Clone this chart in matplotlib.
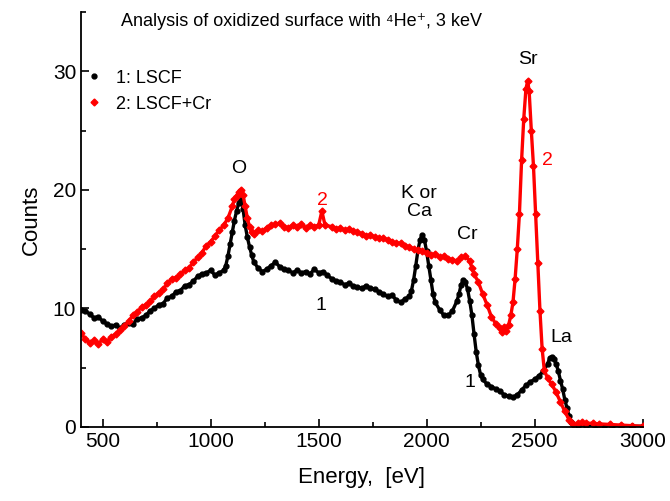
import matplotlib.pyplot as plt

plt.rcParams['font.family'] = ['Liberation Sans', 'DejaVu Sans']

# 1: LSCF (black)
e_lscf = [400, 420, 440, 460, 480, 500, 520, 540, 560, 580, 600, 620, 640, 660, 680,
          700, 720, 740, 760, 780, 800, 820, 840, 860, 880, 900, 920, 940, 960, 980,
          1000, 1020, 1040, 1060, 1070, 1080, 1090, 1100, 1110, 1120, 1130, 1140, 1150,
          1160, 1170, 1180, 1190, 1200, 1220, 1240, 1260, 1280, 1300, 1320, 1340, 1360,
          1380, 1400, 1420, 1440, 1460, 1480, 1500, 1520, 1540, 1560, 1580, 1600, 1620,
          1640, 1660, 1680, 1700, 1720, 1740, 1760, 1780, 1800, 1820, 1840, 1860, 1880,
          1900, 1920, 1930, 1940, 1950, 1960, 1970, 1980, 1990, 2000, 2010, 2020, 2030,
          2040, 2060, 2080, 2100, 2120, 2140, 2150, 2160, 2170, 2180, 2190, 2200, 2210,
          2220, 2230, 2240, 2250, 2260, 2280, 2300, 2320, 2340, 2360, 2380, 2400, 2420,
          2440, 2460, 2480, 2500, 2520, 2540, 2560, 2570, 2580, 2590, 2600, 2610, 2620,
          2630, 2640, 2650, 2660, 2670, 2680, 2700, 2740, 2780, 2820, 2860, 2900, 2950, 3000]
c_lscf = [9.9, 9.8, 9.5, 9.2, 9.3, 8.9, 8.7, 8.5, 8.6, 8.3, 8.6, 8.8, 8.7, 9.1, 9.2,
          9.4, 9.8, 10.0, 10.3, 10.4, 10.9, 11.0, 11.4, 11.5, 11.9, 12.0, 12.3, 12.7, 12.9, 13.0,
          13.2, 12.8, 13.0, 13.2, 13.6, 14.4, 15.4, 16.4, 17.4, 18.2, 18.9, 19.2, 18.4,
          17.0, 16.0, 15.2, 14.5, 13.9, 13.4, 13.1, 13.3, 13.6, 13.9, 13.5, 13.3, 13.2,
          13.0, 13.2, 13.0, 13.1, 12.9, 13.3, 13.0, 13.1, 12.8, 12.5, 12.3, 12.2, 12.0,
          12.1, 11.9, 11.8, 11.7, 11.9, 11.7, 11.6, 11.4, 11.2, 11.0, 11.1, 10.7, 10.5,
          10.8, 11.0, 11.5, 12.4, 13.6, 14.9, 15.8, 16.2, 15.8, 14.8, 13.6, 12.4, 11.2,
          10.5, 9.9, 9.4, 9.4, 9.8, 10.6, 11.2, 12.0, 12.4, 12.2, 11.6, 10.6, 9.4,
          7.8, 6.3, 5.2, 4.4, 4.0, 3.6, 3.4, 3.2, 3.0, 2.7, 2.6, 2.5, 2.7,
          3.1, 3.5, 3.8, 4.0, 4.3, 4.7, 5.3, 5.8, 5.9, 5.7, 5.3, 4.7, 3.9,
          3.2, 2.3, 1.6, 0.9, 0.4, 0.2, 0.1, 0.05, 0.05, 0.05, 0.05, 0.05, 0.05, 0.05]

# 2: LSCF+Cr (red)
e_cr = [400, 420, 440, 460, 480, 500, 520, 540, 560, 580, 600, 620, 640, 660, 680,
        700, 720, 740, 760, 780, 800, 820, 840, 860, 880, 900, 920, 940, 960, 980,
        1000, 1020, 1040, 1060, 1080, 1100, 1110, 1120, 1130, 1140, 1150, 1160, 1170,
        1180, 1190, 1200, 1220, 1240, 1260, 1280, 1300, 1320, 1340, 1360, 1380, 1400,
        1420, 1440, 1460, 1480, 1500, 1515, 1530, 1560, 1580, 1600, 1620, 1640, 1660,
        1680, 1700, 1720, 1740, 1760, 1780, 1800, 1820, 1840, 1860, 1880, 1900, 1920,
        1940, 1960, 1980, 2000, 2020, 2040, 2060, 2080, 2100, 2120, 2140, 2160, 2180,
        2200, 2210, 2220, 2240, 2260, 2280, 2300, 2320, 2340, 2350, 2360, 2370, 2380,
        2390, 2400, 2410, 2420, 2430, 2440, 2450, 2460, 2468, 2475, 2485, 2495, 2505,
        2515, 2525, 2535, 2545, 2560, 2580, 2600, 2620, 2640, 2660, 2680, 2700, 2720,
        2740, 2770, 2800, 2850, 2900, 2950, 3000]
c_cr = [7.9, 7.4, 7.1, 7.3, 7.0, 7.4, 7.2, 7.6, 7.8, 8.2, 8.5, 8.9, 9.4, 9.7, 10.1,
        10.3, 10.6, 11.0, 11.3, 11.6, 12.1, 12.5, 12.6, 12.9, 13.2, 13.4, 13.9, 14.3, 14.7, 15.3,
        15.6, 16.1, 16.6, 17.0, 17.6, 18.6, 19.2, 19.5, 19.8, 20.0, 19.6, 18.6, 17.6,
        16.9, 16.4, 16.3, 16.6, 16.5, 16.8, 17.0, 17.1, 17.2, 16.9, 16.8, 17.0, 16.9,
        17.1, 16.8, 17.0, 16.9, 17.0, 18.2, 17.0, 16.9, 16.7, 16.8, 16.6, 16.7, 16.5,
        16.4, 16.3, 16.1, 16.2, 16.0, 15.9, 15.9, 15.8, 15.6, 15.5, 15.5, 15.3, 15.2,
        15.0, 14.9, 14.8, 14.7, 14.5, 14.6, 14.3, 14.4, 14.2, 14.1, 14.0, 14.3, 14.4,
        14.0, 13.4, 12.9, 12.2, 11.2, 10.3, 9.3, 8.7, 8.3, 8.0, 8.4, 8.1, 8.6,
        9.4, 10.5, 12.5, 15.0, 18.0, 22.5, 26.0, 28.5, 29.2, 28.3, 25.0, 22.0, 18.0,
        13.8, 9.8, 6.6, 4.8, 4.1, 3.6, 2.9, 2.1, 1.3, 0.6, 0.25, 0.3, 0.4,
        0.3, 0.3, 0.25, 0.2, 0.15, 0.1, 0.05]

fig = plt.figure(figsize=(6.7, 5.01), dpi=100)
ax = fig.add_axes([0.121, 0.148, 0.838, 0.828])

ax.plot(e_lscf, c_lscf, color='black', lw=2.4)
ax.plot(e_lscf, c_lscf, ls='', marker='o', ms=3.5, color='black', label='1: LSCF')
ax.plot(e_cr, c_cr, color='#ff0000', lw=2.4)
ax.plot(e_cr, c_cr, ls='', marker='D', ms=3.5, color='#ff0000', label='2: LSCF+Cr')

ax.set_xlim(400, 3000)
ax.set_ylim(0, 35)
ax.set_xticks([500, 1000, 1500, 2000, 2500, 3000])
ax.set_xticks([750, 1250, 1750, 2250, 2750], minor=True)
ax.set_yticks([0, 10, 20, 30])
ax.set_yticks([5, 15, 25, 35], minor=True)
ax.tick_params(which='both', direction='in', width=1.2, labelsize=15)
ax.tick_params(which='major', length=6)
ax.tick_params(which='minor', length=3.5)
ax.spines['top'].set_visible(False)
ax.spines['right'].set_visible(False)
ax.spines['left'].set_linewidth(1.3)
ax.spines['bottom'].set_linewidth(1.3)

ax.set_xlabel('Energy,  [eV]', fontsize=16, labelpad=12)
ax.set_ylabel('Counts', fontsize=16, labelpad=8)

ax.text(0.072, 0.976, 'Analysis of oxidized surface with \u2074He\u207a, 3 keV',
        transform=ax.transAxes, fontsize=13, va='center', ha='left')

ax.legend(loc='upper left', bbox_to_anchor=(-0.025, 0.9), frameon=False, fontsize=13,
          handletextpad=0.6, handlelength=1.2, markerscale=1.0, labelspacing=0.5)

ax.text(1132, 21.8, 'O', fontsize=14, ha='center', va='center')
ax.text(1518, 19.1, '2', fontsize=14, ha='center', va='center', color='#ff0000')
ax.text(1509, 10.2, '1', fontsize=14, ha='center', va='center')
ax.text(1965, 18.9, 'K or\nCa', fontsize=14, ha='center', va='center', linespacing=1.1)
ax.text(2190, 16.2, 'Cr', fontsize=14, ha='center', va='center')
ax.text(2468, 31.0, 'Sr', fontsize=14, ha='center', va='center')
ax.text(2559, 22.5, '2', fontsize=14, ha='center', va='center', color='#ff0000')
ax.text(2623, 7.5, 'La', fontsize=14, ha='center', va='center')
ax.text(2200, 3.7, '1', fontsize=14, ha='center', va='center')

fig.savefig('out.png', dpi=100)
